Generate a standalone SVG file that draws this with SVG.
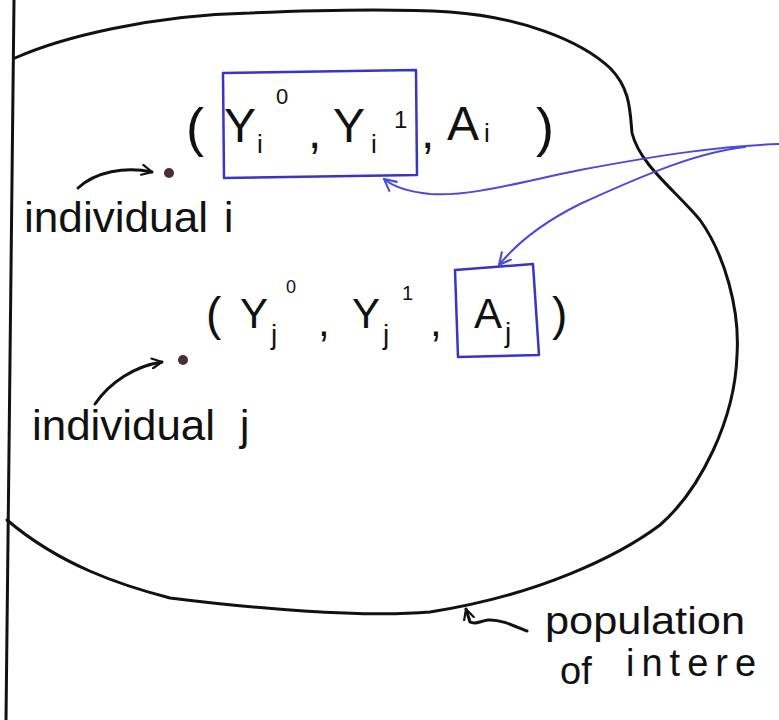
<svg xmlns="http://www.w3.org/2000/svg" width="779" height="720" viewBox="0 0 779 720">
<style>
.ink{fill:none;stroke:#111;stroke-width:3;stroke-linecap:round;stroke-linejoin:round}
.blue{fill:none;stroke:#3535c8;stroke-width:2.5;stroke-linecap:round;stroke-linejoin:round}
.bluel{fill:none;stroke:#4a4adc;stroke-width:2;stroke-linecap:round}
.t{font-family:"Liberation Sans","DejaVu Sans",sans-serif;fill:#111}
.dot{fill:#4a3036}
</style>
<defs>
<marker id="ab" viewBox="0 0 12 12" refX="11" refY="6" markerWidth="12" markerHeight="12" markerUnits="userSpaceOnUse" orient="auto">
<path d="M1,1 L11,6 L1,11" fill="none" stroke="#111" stroke-width="2.2" stroke-linecap="round"/>
</marker>
<marker id="au" viewBox="0 0 12 12" refX="11" refY="6" markerWidth="14" markerHeight="14" markerUnits="userSpaceOnUse" orient="auto">
<path d="M1,1 L11,6 L1,11" fill="none" stroke="#4a4adc" stroke-width="1.8" stroke-linecap="round"/>
</marker>
</defs>
<rect width="779" height="720" fill="#fff"/>

<g id="frame">
<path class="ink" d="M14,0 L6,720"/>
</g>

<g id="population">
<path class="ink" d="M15,58 C60,38 150,15 250,13 C320,10 400,9 450,12 C520,17 580,40 610,68 C630,88 630,110 632,133 C640,165 675,190 700,220 C725,255 740,310 737,355 C735,420 700,490 660,525 C620,555 540,595 430,612 C360,618 250,608 170,598 C120,585 60,565 7,520"/>
</g>

<g id="tuple-i">
<text class="t" font-size="48"><tspan x="186" y="146" font-size="54">(</tspan><tspan x="224" y="142">Y</tspan><tspan x="257" y="153" font-size="26">i</tspan><tspan x="276" y="104" font-size="22">0</tspan><tspan x="308" y="148">,</tspan><tspan x="333" y="142">Y</tspan><tspan x="371" y="153" font-size="26">i</tspan><tspan x="394" y="128" font-size="24">1</tspan><tspan x="421" y="148">,</tspan><tspan x="447" y="140">A</tspan><tspan x="484" y="142" font-size="26">i</tspan><tspan x="536" y="146" font-size="54">)</tspan></text>
</g>

<g id="box-i">
<path class="blue" d="M223,73 L416,70 L417,175 L224,178 Z"/>
</g>

<g id="tuple-j">
<text class="t" font-size="42"><tspan x="206" y="330" font-size="46">(</tspan><tspan x="240" y="328">Y</tspan><tspan x="271" y="344" font-size="28">j</tspan><tspan x="286" y="293" font-size="18">0</tspan><tspan x="318" y="336">,</tspan><tspan x="352" y="328">Y</tspan><tspan x="383" y="344" font-size="28">j</tspan><tspan x="402" y="300" font-size="20">1</tspan><tspan x="430" y="336">,</tspan><tspan x="474" y="328">A</tspan><tspan x="505" y="342" font-size="28">j</tspan><tspan x="552" y="330" font-size="46">)</tspan></text>
</g>

<g id="box-j">
<path class="blue" d="M455,270 L533,264 L539,355 L458,357 Z"/>
</g>

<g id="individual-i">
<circle class="dot" cx="169" cy="173" r="5"/>
<text class="t" x="24" y="232" font-size="42" textLength="184" lengthAdjust="spacingAndGlyphs">individual</text>
<text class="t" x="224" y="232" font-size="42">i</text>
</g>

<g id="individual-j">
<circle class="dot" cx="183" cy="360" r="5"/>
<text class="t" x="32" y="440" font-size="42" textLength="183" lengthAdjust="spacingAndGlyphs">individual</text>
<text class="t" x="240" y="440" font-size="42">j</text>
</g>

<g id="label-population">
<text class="t" x="545" y="634" font-size="38" textLength="200" lengthAdjust="spacingAndGlyphs">population</text>
<text class="t" font-size="38"><tspan x="560" y="684">of</tspan><tspan x="626" y="676" letter-spacing="7">intere</tspan></text>
</g>

<g id="connectors">
<path class="ink" stroke-width="2.6" marker-end="url(#ab)" d="M78,188 C95,172 125,166 152,172"/>
<path class="ink" stroke-width="2.6" marker-end="url(#ab)" d="M95,404 C110,382 135,366 162,362"/>
<path class="ink" stroke-width="2.6" marker-end="url(#ab)" d="M527,631 C510,624 498,619 488,620 C480,621 476,625 470,622 L466,609"/>
<path class="bluel" marker-end="url(#au)" d="M779,144 C720,146 660,155 580,170 C520,182 470,197 430,194 C410,192 395,188 384,179"/>
<path class="bluel" marker-end="url(#au)" d="M745,147 C700,152 650,172 580,204 C540,224 516,244 499,265"/>
</g>
</svg>
